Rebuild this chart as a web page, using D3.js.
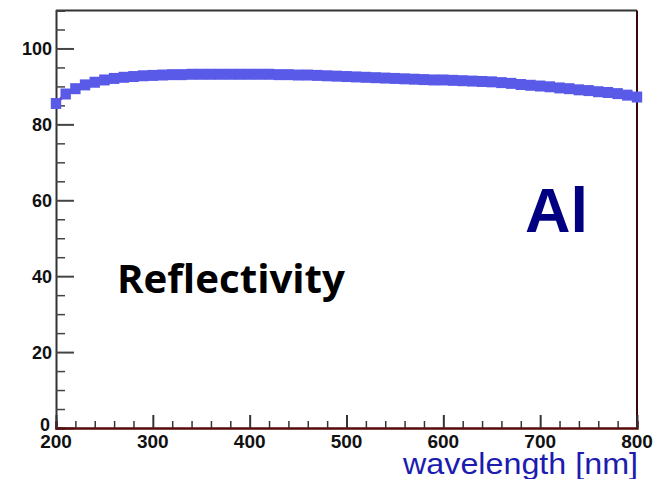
<!DOCTYPE html>
<html>
<head>
<meta charset="utf-8">
<script src="https://cdn.jsdelivr.net/npm/d3@7"></script>
<style>
  body { margin: 0; background: #fff; }
  svg { display: block; }
</style>
</head>
<body>
<div id="chart"></div>
<script>
// reflectivity of aluminium
const wavelength = [200, 210, 220, 230, 240, 250, 260, 270, 280, 290,
  300, 310, 320, 330, 340, 350, 360, 370, 380, 390,
  400, 410, 420, 430, 440, 450, 460, 470, 480, 490,
  500, 510, 520, 530, 540, 550, 560, 570, 580, 590,
  600, 610, 620, 630, 640, 650, 660, 670, 680, 690,
  700, 710, 720, 730, 740, 750, 760, 770, 780, 790, 800]
const reflectivity = [85.5, 88.0, 89.4, 90.4, 91.1, 91.7, 92.1, 92.4, 92.6, 92.8,
  92.9, 93.0, 93.1, 93.1, 93.2, 93.2, 93.2, 93.2, 93.2, 93.2,
  93.2, 93.2, 93.2, 93.1, 93.1, 93.0, 93.0, 92.9, 92.8, 92.7,
  92.6, 92.5, 92.4, 92.3, 92.2, 92.1, 92.0, 91.9, 91.8, 91.7,
  91.7, 91.6, 91.5, 91.4, 91.3, 91.2, 91.0, 90.8, 90.5, 90.3,
  90.1, 89.9, 89.6, 89.4, 89.1, 88.9, 88.6, 88.4, 88.1, 87.7, 87.2]
const xTicks = [200, 300, 400, 500, 600, 700, 800]
const yTicks = [0, 20, 40, 60, 80, 100]

const width = 658, height = 479

const svg = d3.select('#chart').append('svg')
  .attr('width', width)
  .attr('height', height)

const x = d3.scaleLinear().domain([200, 800]).range([56, 637])
const y = d3.scaleLinear().domain([0, 110]).range([428, 10.5])

const points = wavelength.map((w, i) => ({ w: w, r: reflectivity[i] }))

// frame
svg.append('line')
  .attr('x1', x(200)).attr('x2', x(800))
  .attr('y1', y(110)).attr('y2', y(110))
  .attr('stroke', '#333').attr('stroke-width', 2)
svg.append('line')
  .attr('x1', x(800)).attr('x2', x(800))
  .attr('y1', y(110)).attr('y2', y(0))
  .attr('stroke', '#3a0808').attr('stroke-width', 2)

// y axis, ticks point into the plot
const yAxis = d3.axisRight(y)
  .tickValues(d3.range(0, 111, 5))
  .tickSize(9)
  .tickFormat('')
const gy = svg.append('g')
  .attr('transform', `translate(${x(200)},0)`)
  .call(yAxis)
gy.select('.domain').attr('stroke', '#333').attr('stroke-width', 2)
gy.selectAll('.tick line').attr('stroke', '#444').attr('stroke-width', 1.5)
gy.selectAll('.tick').filter(d => yTicks.includes(d))
  .select('line').attr('x2', 18).attr('stroke-width', 2)

svg.append('g').selectAll('text')
  .data(yTicks)
  .enter()
  .append('text')
  .attr('x', d => d === 0 ? 50 : 52)
  .attr('y', d => y(d) + (d === 0 ? 3 : 6.5))
  .attr('text-anchor', 'end')
  .style('font', 'bold 18px "Liberation Sans", Arial, sans-serif')
  .style('fill', '#111')
  .text(d => d)

// x axis, ticks point up
const xAxis = d3.axisTop(x)
  .tickValues(d3.range(200, 801, 20))
  .tickSize(7)
  .tickFormat('')
const gx = svg.append('g')
  .attr('transform', `translate(0,${y(0)})`)
  .call(xAxis)
gx.select('.domain').attr('stroke', '#5a0a0a').attr('stroke-width', 2.5)
gx.selectAll('.tick line').attr('stroke', '#333').attr('stroke-width', 1.5)
gx.selectAll('.tick').filter(d => xTicks.includes(d))
  .select('line').attr('y2', -13).attr('stroke-width', 2)

svg.append('g').selectAll('text')
  .data(xTicks)
  .enter()
  .append('text')
  .attr('x', d => x(d))
  .attr('y', 448)
  .attr('text-anchor', 'middle')
  .style('font', 'bold 19px "Liberation Sans", Arial, sans-serif')
  .style('fill', '#111')
  .text(d => d)

// data: red line under blue square markers
const line = d3.line()
  .x(d => x(d.w))
  .y(d => y(d.r))
svg.append('path')
  .datum(points)
  .attr('d', line)
  .attr('fill', 'none')
  .attr('stroke', '#c8103c')
  .attr('stroke-width', 3)

svg.selectAll('rect.marker')
  .data(points)
  .enter()
  .append('rect')
  .attr('class', 'marker')
  .attr('x', d => x(d.w) - 5.2)
  .attr('y', d => y(d.r) - 5.5)
  .attr('width', 10.4)
  .attr('height', 11)
  .attr('fill', '#5a5ae8')

// labels
svg.append('text')
  .attr('x', 117)
  .attr('y', 293)
  .attr('textLength', 228)
  .attr('lengthAdjust', 'spacingAndGlyphs')
  .style('font', 'bold 39px "Open Sans", sans-serif')
  .style('fill', '#000')
  .text('Reflectivity')

svg.append('text')
  .attr('x', 525)
  .attr('y', 232)
  .style('font', 'bold 63px "Liberation Sans", Arial, sans-serif')
  .style('fill', '#000080')
  .text('Al')

svg.append('text')
  .attr('x', 403)
  .attr('y', 474)
  .attr('textLength', 235)
  .attr('lengthAdjust', 'spacingAndGlyphs')
  .style('font', '30px "Liberation Sans", Arial, sans-serif')
  .style('fill', '#1c1cb0')
  .text('wavelength [nm]')
</script>
</body>
</html>
